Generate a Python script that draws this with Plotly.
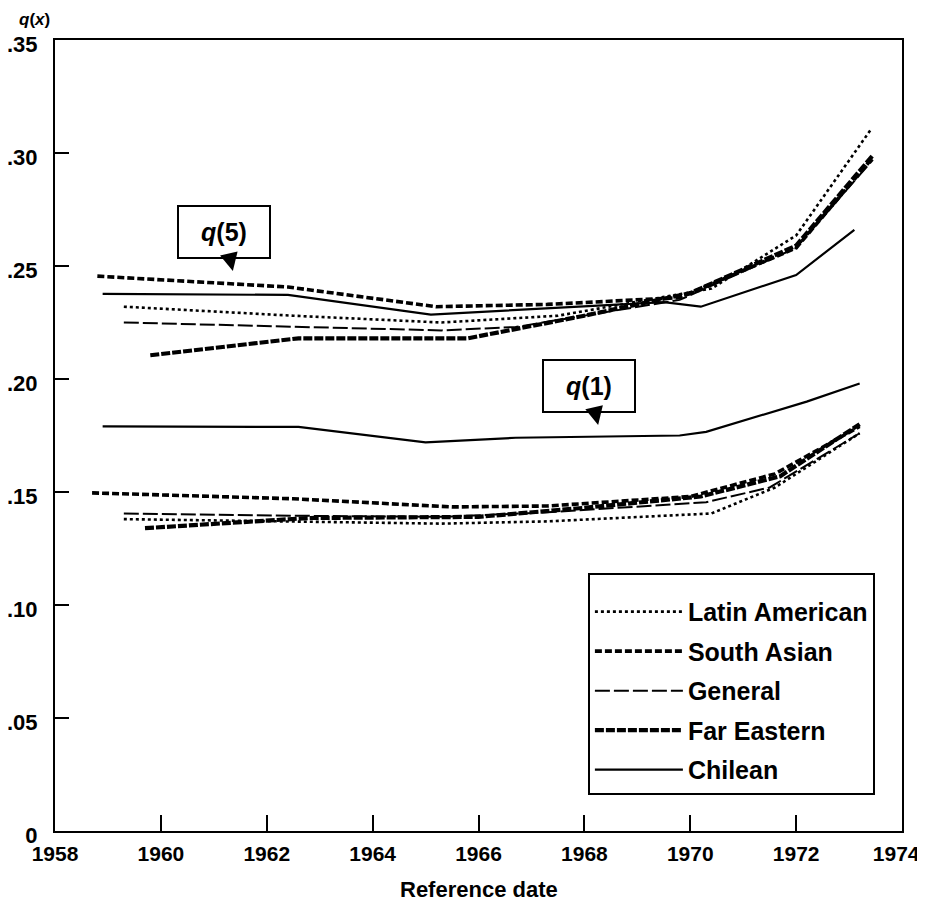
import plotly.graph_objects as go

# ---- data ----
series_names = ["Latin American", "South Asian", "General", "Far Eastern", "Chilean"]

latin_q5_x = [1959.3, 1962.5, 1965.3, 1967.5, 1970.4, 1972.0, 1973.4]
latin_q5_y = [0.232, 0.228, 0.225, 0.228, 0.240, 0.2635, 0.310]
latin_q1_x = [1959.3, 1962.5, 1965.3, 1967.3, 1970.4, 1971.6, 1973.2]
latin_q1_y = [0.138, 0.137, 0.136, 0.137, 0.1405, 0.152, 0.176]

sasian_q5_x = [1958.8, 1962.4, 1965.2, 1967.3, 1969.8, 1972.0, 1973.45]
sasian_q5_y = [0.2455, 0.2407, 0.232, 0.233, 0.236, 0.258, 0.298]
sasian_q1_x = [1958.7, 1962.5, 1965.5, 1967.3, 1970.0, 1971.6, 1973.2]
sasian_q1_y = [0.1496, 0.147, 0.1434, 0.1438, 0.148, 0.158, 0.179]

general_q5_x = [1959.3, 1962.5, 1965.3, 1966.7, 1969.8, 1972.0, 1973.45]
general_q5_y = [0.225, 0.223, 0.2215, 0.223, 0.235, 0.258, 0.297]
general_q1_x = [1959.3, 1962.5, 1965.3, 1967.3, 1970.3, 1971.5, 1973.2]
general_q1_y = [0.1405, 0.1395, 0.139, 0.141, 0.1455, 0.152, 0.176]

fareast_q5_x = [1959.8, 1962.6, 1965.8, 1968.0, 1970.0, 1972.0, 1973.45]
fareast_q5_y = [0.2105, 0.218, 0.218, 0.228, 0.238, 0.259, 0.299]
fareast_q1_x = [1959.7, 1962.8, 1966.0, 1968.0, 1970.2, 1971.7, 1973.2]
fareast_q1_y = [0.134, 0.1385, 0.139, 0.143, 0.148, 0.157, 0.180]

chilean_q5_x = [1958.9, 1962.4, 1965.1, 1969.5, 1970.2, 1972.0, 1973.1]
chilean_q5_y = [0.2377, 0.2372, 0.2285, 0.234, 0.232, 0.246, 0.266]
chilean_q1_x = [1958.9, 1962.6, 1965.0, 1966.7, 1969.8, 1970.3, 1972.2, 1973.2]
chilean_q1_y = [0.179, 0.1788, 0.172, 0.174, 0.175, 0.1766, 0.190, 0.198]

x_tick_vals = [1958, 1960, 1962, 1964, 1966, 1968, 1970, 1972, 1974]
x_tick_text = ["1958", "1960", "1962", "1964", "1966", "1968", "1970", "1972",
               "1974&nbsp;&nbsp;"]
y_tick_vals = [0, 0.05, 0.10, 0.15, 0.20, 0.25, 0.30, 0.35]
y_tick_text = ["0", ".05", ".10", ".15", ".20", ".25", ".30", ".35"]

callout_labels = ["<b><i>q</i>(5)</b>", "<b><i>q</i>(1)</b>"]
callout_x = [1961.36, 1968.26]
callout_y = [0.2478, 0.1797]

# ---- styles ----
styles = {
    "Latin American": dict(color="black", width=2.6, dash="dot"),
    "South Asian": dict(color="black", width=3.6, dash="7px,3px"),
    "General": dict(color="black", width=2.0, dash="15px,4px"),
    "Far Eastern": dict(color="black", width=4.2, dash="9px,2px"),
    "Chilean": dict(color="black", width=2.2, dash="solid"),
}

data = {
    "Latin American": (latin_q5_x, latin_q5_y, latin_q1_x, latin_q1_y),
    "South Asian": (sasian_q5_x, sasian_q5_y, sasian_q1_x, sasian_q1_y),
    "General": (general_q5_x, general_q5_y, general_q1_x, general_q1_y),
    "Far Eastern": (fareast_q5_x, fareast_q5_y, fareast_q1_x, fareast_q1_y),
    "Chilean": (chilean_q5_x, chilean_q5_y, chilean_q1_x, chilean_q1_y),
}

fig = go.Figure()
for name in series_names:
    x5, y5, x1, y1 = data[name]
    fig.add_trace(go.Scatter(x=x5, y=y5, mode="lines", name=name, legendgroup=name,
                             line=styles[name], showlegend=True))
    fig.add_trace(go.Scatter(x=x1, y=y1, mode="lines", name=name, legendgroup=name,
                             line=styles[name], showlegend=False))

font_family = "Liberation Sans, Arial, sans-serif"

for lab, cx, cy in zip(callout_labels, callout_x, callout_y):
    fig.add_annotation(x=cx, y=cy, xref="x", yref="y", text=lab,
                       showarrow=True, arrowhead=2, arrowsize=1.8, arrowwidth=2,
                       arrowcolor="black", ax=-9, ay=-39,
                       font=dict(family=font_family, size=25, color="black"),
                       bordercolor="black", borderwidth=2, borderpad=2,
                       bgcolor="white", width=86, height=46)

# y-axis title q(x)
fig.add_annotation(x=0, y=1, xref="paper", yref="paper", xanchor="right", yanchor="middle",
                   xshift=-3, yshift=21, showarrow=False,
                   text="<b><i>q</i>(<i>x</i>)</b>",
                   font=dict(family=font_family, size=17, color="black"))
# x-axis title
fig.add_annotation(x=0.5, y=0, xref="paper", yref="paper", xanchor="center", yanchor="middle",
                   yshift=-58, showarrow=False,
                   text="<b>Reference date</b>",
                   font=dict(family=font_family, size=22, color="black"))

# the page body adds an 8px offset, so the figure is sized to land the plot at 55..902 x 40..831
fig.update_layout(
    width=909, height=899,
    margin=dict(l=47, r=15, t=32, b=76),
    paper_bgcolor="white", plot_bgcolor="white",
    font=dict(family=font_family, color="black"),
    legend=dict(x=0.968, y=0.046, xanchor="right", yanchor="bottom",
                bordercolor="black", borderwidth=2, bgcolor="white",
                font=dict(family=font_family, size=25, color="black", weight="bold"),
                title=dict(text="&nbsp;", font=dict(size=11)),
                tracegroupgap=4, traceorder="grouped", itemwidth=88),
)

fig.update_xaxes(range=[1958, 1974], tickvals=x_tick_vals, ticktext=x_tick_text,
                 ticks="inside", ticklen=16, tickwidth=2, tickcolor="black",
                 showline=True, linecolor="black", linewidth=2, mirror=True,
                 showgrid=False, zeroline=False, automargin=False, ticklabelstandoff=3,
                 ticklabeloverflow="allow",
                 tickfont=dict(family=font_family, size=21, color="black", weight="bold"))
fig.update_yaxes(range=[0, 0.35], tickvals=y_tick_vals, ticktext=y_tick_text,
                 ticks="inside", ticklen=14, tickwidth=2, tickcolor="black",
                 showline=True, linecolor="black", linewidth=2, mirror=True,
                 showgrid=False, zeroline=False, automargin=False, ticklabelstandoff=11,
                 ticklabeloverflow="allow", ticklabelshift=4,
                 tickfont=dict(family=font_family, size=22, color="black", weight="bold"))

fig.write_html("out.html")
